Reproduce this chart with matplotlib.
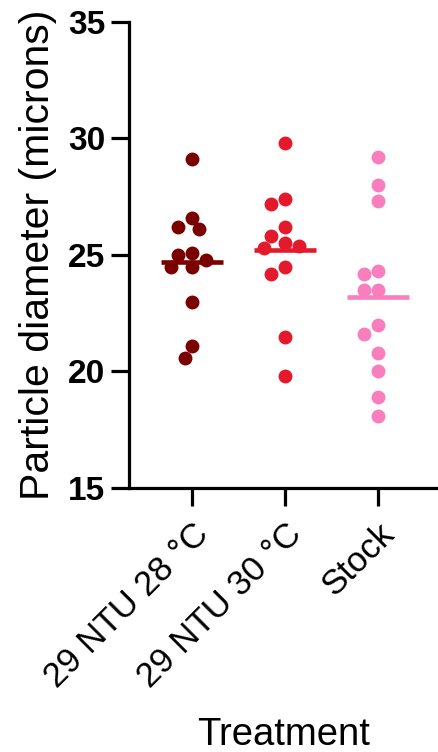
import numpy as np
import matplotlib.pyplot as plt

plt.rcParams['font.family'] = ['Liberation Sans', 'DejaVu Sans']

groups = ['29 NTU 28 °C', '29 NTU 30 °C', 'Stock']
ntu28 = [29.1, 26.6, 26.2, 26.1, 25.1, 25.0, 24.8, 24.5, 24.5, 23.0, 21.1, 20.6]
ntu30 = [29.8, 27.4, 27.2, 26.2, 25.8, 25.5, 25.4, 25.3, 24.5, 24.2, 21.5, 19.8]
stock = [29.2, 28.0, 27.3, 24.3, 24.2, 23.5, 23.5, 22.0, 21.6, 20.8, 20.0, 18.9, 18.1]
colors = ['#7a0000', '#e4192b', '#f87ebd']
yticks = [15, 20, 25, 30, 35]

fig = plt.figure(figsize=(4.38, 7.52), dpi=100)
ax = fig.add_axes([0.2945, 0.351, 0.7055, 0.62])
ax.set_xlim(-0.677, 2.645)
ax.set_ylim(15, 35)

# pixel scale of the data axes, used for the swarm layout
p0 = ax.transData.transform((0, 0))
p1 = ax.transData.transform((1, 1))
sx, sy = p1[0] - p0[0], p1[1] - p0[1]
dot = 14.0  # marker diameter in px


def swarm(vals):
    step = dot / 2
    placed = []
    offs = np.zeros(len(vals))
    order = np.argsort(vals)[::-1]
    for i in order:
        y = vals[i] * sy
        k = 0
        cands = [0]
        for n in range(1, 12):
            cands += [-n, n]
        for k in cands:
            x = k * step
            if all(np.hypot(x - px, y - py) >= 0.88 * dot for px, py in placed):
                break
        placed.append((k * step, y))
        offs[i] = k * step / sx
    return offs


for i, vals in enumerate([ntu28, ntu30, stock]):
    vals = np.array(vals)
    xs = i + swarm(vals)
    ax.plot(xs, vals, 'o', ms=10, color=colors[i], mec='none', zorder=3)
    m = vals.mean()
    ax.plot([i - 0.33, i + 0.33], [m, m], color=colors[i], lw=3.3,
            solid_capstyle='butt', zorder=2)

for s in ['top', 'right']:
    ax.spines[s].set_visible(False)
for s in ['left', 'bottom']:
    ax.spines[s].set_linewidth(2.3)

ax.set_yticks(yticks)
ax.set_xticks(range(3))
ax.set_xticklabels(groups, rotation=45, ha='right', rotation_mode='anchor',
                   fontsize=25)
ax.tick_params(length=13, width=2.3, colors='black')
ax.tick_params(axis='y', labelsize=24, pad=4)
ax.tick_params(axis='x', pad=8)
for lab in ax.get_yticklabels():
    lab.set_fontweight('bold')

ax.set_ylabel('Particle diameter (microns)', fontsize=29.5, labelpad=8)
ax.set_xlabel('Treatment', fontsize=27.5, labelpad=17)

fig.savefig('out.png', dpi=100)
